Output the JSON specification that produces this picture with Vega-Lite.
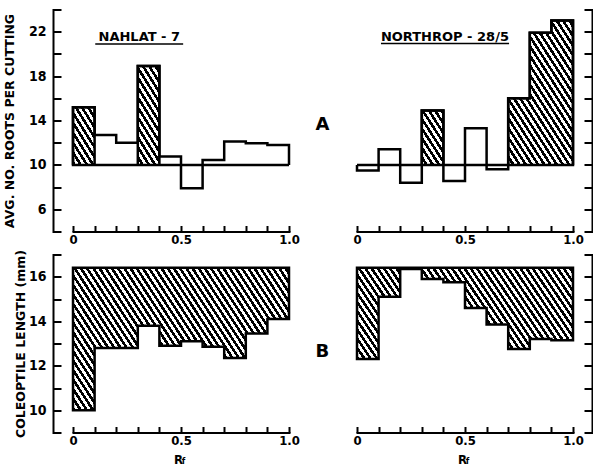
{
  "$schema": "https://vega.github.io/schema/vega-lite/v6.json",
  "padding": {"left": 3, "top": 2.5, "right": 0, "bottom": 0},
  "background": "white",
  "columns": 2,
  "spacing": {"row": 23, "column": 68},
  "bounds": "flush",
  "config": {
    "view": {"stroke": null},
    "axis": {"grid": false, "tickCount": 30, "domainColor": "black", "domainWidth": 2, "tickColor": "black", "tickWidth": 2, "labelColor": "black", "titleColor": "black", "labelFont": "Liberation Sans Narrow, DejaVu Sans Condensed, sans-serif", "labelFontWeight": "bold", "labelFlush": false, "labelOverlap": false, "labelBound": false, "titleFont": "DejaVu Sans", "titleFontWeight": "bold", "domainCap": "square"},
    "axisX": {"labelFontSize": 13, "tickSize": -6, "labelPadding": 8},
    "axisY": {"labelFontSize": 14, "tickSize": -8, "labelPadding": 15, "titleFontSize": 12.5}
  },
  "datasets": {
    "nahlat_roots": [{"rf":0,"roots":10},{"rf":0,"roots":15.2},{"rf":0.1,"roots":12.7},{"rf":0.2,"roots":12.0},{"rf":0.3,"roots":18.9},{"rf":0.4,"roots":10.75},{"rf":0.5,"roots":7.9},{"rf":0.6,"roots":10.45},{"rf":0.7,"roots":12.1},{"rf":0.8,"roots":11.95},{"rf":0.9,"roots":11.8},{"rf":1.0,"roots":10}],
    "nahlat_sig": [{"rf":0,"roots":15.2},{"rf":0.1,"roots":10},{"rf":0.3,"roots":18.9},{"rf":0.4,"roots":10},{"rf":1.0,"roots":10}],
    "northrop_roots": [{"rf":0,"roots":10},{"rf":0,"roots":9.5},{"rf":0.1,"roots":11.4},{"rf":0.2,"roots":8.4},{"rf":0.3,"roots":14.9},{"rf":0.4,"roots":8.55},{"rf":0.5,"roots":13.3},{"rf":0.6,"roots":9.6},{"rf":0.7,"roots":16.0},{"rf":0.8,"roots":21.9},{"rf":0.9,"roots":23.0},{"rf":1.0,"roots":10}],
    "northrop_sig": [{"rf":0,"roots":10},{"rf":0.3,"roots":14.9},{"rf":0.4,"roots":10},{"rf":0.7,"roots":16.0},{"rf":0.8,"roots":21.9},{"rf":0.9,"roots":23.0},{"rf":1.0,"roots":23.0}],
    "nahlat_coleo": [{"rf":0,"len":10.0},{"rf":0.1,"len":12.8},{"rf":0.2,"len":12.8},{"rf":0.3,"len":13.8},{"rf":0.4,"len":12.9},{"rf":0.5,"len":13.1},{"rf":0.6,"len":12.85},{"rf":0.7,"len":12.35},{"rf":0.8,"len":13.45},{"rf":0.9,"len":14.1},{"rf":1.0,"len":14.1}],
    "northrop_coleo": [{"rf":0,"len":12.3},{"rf":0.1,"len":15.1},{"rf":0.2,"len":16.35},{"rf":0.3,"len":15.9},{"rf":0.4,"len":15.75},{"rf":0.5,"len":14.6},{"rf":0.6,"len":13.85},{"rf":0.7,"len":12.75},{"rf":0.8,"len":13.2},{"rf":0.9,"len":13.15},{"rf":1.0,"len":13.15}]
  },
  "concat": [
    {
      "width": 216, "height": 222,
      "layer": [
        {"data": {"values": [{}]}, "mark": {"type": "rule", "strokeWidth": 2, "color": "black"},
         "encoding": {"x": {"datum": 0, "type": "quantitative"}, "x2": {"datum": 1}, "y": {"datum": 10, "type": "quantitative"}}},
        {"data": {"name": "nahlat_sig"}, "mark": {"type": "area", "interpolate": "step-after", "stroke": "black", "strokeWidth": 2.5, "strokeJoin": "miter",
          "fill": {"gradient": "linear", "x1": 0, "y1": 1, "x2": 1.3268, "y2": 0.6207, "stops": [
{"offset":0,"color":"#000"},{"offset":0.01,"color":"#000"},{"offset":0.01,"color":"#fff"},{"offset":0.02,"color":"#fff"},
{"offset":0.02,"color":"#000"},{"offset":0.03,"color":"#000"},{"offset":0.03,"color":"#fff"},{"offset":0.04,"color":"#fff"},
{"offset":0.04,"color":"#000"},{"offset":0.05,"color":"#000"},{"offset":0.05,"color":"#fff"},{"offset":0.06,"color":"#fff"},
{"offset":0.06,"color":"#000"},{"offset":0.07,"color":"#000"},{"offset":0.07,"color":"#fff"},{"offset":0.08,"color":"#fff"},
{"offset":0.08,"color":"#000"},{"offset":0.09,"color":"#000"},{"offset":0.09,"color":"#fff"},{"offset":0.10,"color":"#fff"},
{"offset":0.10,"color":"#000"},{"offset":0.11,"color":"#000"},{"offset":0.11,"color":"#fff"},{"offset":0.12,"color":"#fff"},
{"offset":0.12,"color":"#000"},{"offset":0.13,"color":"#000"},{"offset":0.13,"color":"#fff"},{"offset":0.14,"color":"#fff"},
{"offset":0.14,"color":"#000"},{"offset":0.15,"color":"#000"},{"offset":0.15,"color":"#fff"},{"offset":0.16,"color":"#fff"},
{"offset":0.16,"color":"#000"},{"offset":0.17,"color":"#000"},{"offset":0.17,"color":"#fff"},{"offset":0.18,"color":"#fff"},
{"offset":0.18,"color":"#000"},{"offset":0.19,"color":"#000"},{"offset":0.19,"color":"#fff"},{"offset":0.20,"color":"#fff"},
{"offset":0.20,"color":"#000"},{"offset":0.21,"color":"#000"},{"offset":0.21,"color":"#fff"},{"offset":0.22,"color":"#fff"},
{"offset":0.22,"color":"#000"},{"offset":0.23,"color":"#000"},{"offset":0.23,"color":"#fff"},{"offset":0.24,"color":"#fff"},
{"offset":0.24,"color":"#000"},{"offset":0.25,"color":"#000"},{"offset":0.25,"color":"#fff"},{"offset":0.26,"color":"#fff"},
{"offset":0.26,"color":"#000"},{"offset":0.27,"color":"#000"},{"offset":0.27,"color":"#fff"},{"offset":0.28,"color":"#fff"},
{"offset":0.28,"color":"#000"},{"offset":0.29,"color":"#000"},{"offset":0.29,"color":"#fff"},{"offset":0.30,"color":"#fff"},
{"offset":0.30,"color":"#000"},{"offset":0.31,"color":"#000"},{"offset":0.31,"color":"#fff"},{"offset":0.32,"color":"#fff"},
{"offset":0.32,"color":"#000"},{"offset":0.33,"color":"#000"},{"offset":0.33,"color":"#fff"},{"offset":0.34,"color":"#fff"},
{"offset":0.34,"color":"#000"},{"offset":0.35,"color":"#000"},{"offset":0.35,"color":"#fff"},{"offset":0.36,"color":"#fff"},
{"offset":0.36,"color":"#000"},{"offset":0.37,"color":"#000"},{"offset":0.37,"color":"#fff"},{"offset":0.38,"color":"#fff"},
{"offset":0.38,"color":"#000"},{"offset":0.39,"color":"#000"},{"offset":0.39,"color":"#fff"},{"offset":0.40,"color":"#fff"},
{"offset":0.40,"color":"#000"},{"offset":0.41,"color":"#000"},{"offset":0.41,"color":"#fff"},{"offset":0.42,"color":"#fff"},
{"offset":0.42,"color":"#000"},{"offset":0.43,"color":"#000"},{"offset":0.43,"color":"#fff"},{"offset":0.44,"color":"#fff"},
{"offset":0.44,"color":"#000"},{"offset":0.45,"color":"#000"},{"offset":0.45,"color":"#fff"},{"offset":0.46,"color":"#fff"},
{"offset":0.46,"color":"#000"},{"offset":0.47,"color":"#000"},{"offset":0.47,"color":"#fff"},{"offset":0.48,"color":"#fff"},
{"offset":0.48,"color":"#000"},{"offset":0.49,"color":"#000"},{"offset":0.49,"color":"#fff"},{"offset":0.50,"color":"#fff"},
{"offset":0.50,"color":"#000"},{"offset":0.51,"color":"#000"},{"offset":0.51,"color":"#fff"},{"offset":0.52,"color":"#fff"},
{"offset":0.52,"color":"#000"},{"offset":0.53,"color":"#000"},{"offset":0.53,"color":"#fff"},{"offset":0.54,"color":"#fff"},
{"offset":0.54,"color":"#000"},{"offset":0.55,"color":"#000"},{"offset":0.55,"color":"#fff"},{"offset":0.56,"color":"#fff"},
{"offset":0.56,"color":"#000"},{"offset":0.57,"color":"#000"},{"offset":0.57,"color":"#fff"},{"offset":0.58,"color":"#fff"},
{"offset":0.58,"color":"#000"},{"offset":0.59,"color":"#000"},{"offset":0.59,"color":"#fff"},{"offset":0.60,"color":"#fff"},
{"offset":0.60,"color":"#000"},{"offset":0.61,"color":"#000"},{"offset":0.61,"color":"#fff"},{"offset":0.62,"color":"#fff"},
{"offset":0.62,"color":"#000"},{"offset":0.63,"color":"#000"},{"offset":0.63,"color":"#fff"},{"offset":0.64,"color":"#fff"},
{"offset":0.64,"color":"#000"},{"offset":0.65,"color":"#000"},{"offset":0.65,"color":"#fff"},{"offset":0.66,"color":"#fff"},
{"offset":0.66,"color":"#000"},{"offset":0.67,"color":"#000"},{"offset":0.67,"color":"#fff"},{"offset":0.68,"color":"#fff"},
{"offset":0.68,"color":"#000"},{"offset":0.69,"color":"#000"},{"offset":0.69,"color":"#fff"},{"offset":0.70,"color":"#fff"},
{"offset":0.70,"color":"#000"},{"offset":0.71,"color":"#000"},{"offset":0.71,"color":"#fff"},{"offset":0.72,"color":"#fff"},
{"offset":0.72,"color":"#000"},{"offset":0.73,"color":"#000"},{"offset":0.73,"color":"#fff"},{"offset":0.74,"color":"#fff"},
{"offset":0.74,"color":"#000"},{"offset":0.75,"color":"#000"},{"offset":0.75,"color":"#fff"},{"offset":0.76,"color":"#fff"},
{"offset":0.76,"color":"#000"},{"offset":0.77,"color":"#000"},{"offset":0.77,"color":"#fff"},{"offset":0.78,"color":"#fff"},
{"offset":0.78,"color":"#000"},{"offset":0.79,"color":"#000"},{"offset":0.79,"color":"#fff"},{"offset":0.80,"color":"#fff"},
{"offset":0.80,"color":"#000"},{"offset":0.81,"color":"#000"},{"offset":0.81,"color":"#fff"},{"offset":0.82,"color":"#fff"},
{"offset":0.82,"color":"#000"},{"offset":0.83,"color":"#000"},{"offset":0.83,"color":"#fff"},{"offset":0.84,"color":"#fff"},
{"offset":0.84,"color":"#000"},{"offset":0.85,"color":"#000"},{"offset":0.85,"color":"#fff"},{"offset":0.86,"color":"#fff"},
{"offset":0.86,"color":"#000"},{"offset":0.87,"color":"#000"},{"offset":0.87,"color":"#fff"},{"offset":0.88,"color":"#fff"},
{"offset":0.88,"color":"#000"},{"offset":0.89,"color":"#000"},{"offset":0.89,"color":"#fff"},{"offset":0.90,"color":"#fff"},
{"offset":0.90,"color":"#000"},{"offset":0.91,"color":"#000"},{"offset":0.91,"color":"#fff"},{"offset":0.92,"color":"#fff"},
{"offset":0.92,"color":"#000"},{"offset":0.93,"color":"#000"},{"offset":0.93,"color":"#fff"},{"offset":0.94,"color":"#fff"},
{"offset":0.94,"color":"#000"},{"offset":0.95,"color":"#000"},{"offset":0.95,"color":"#fff"},{"offset":0.96,"color":"#fff"},
{"offset":0.96,"color":"#000"},{"offset":0.97,"color":"#000"},{"offset":0.97,"color":"#fff"},{"offset":0.98,"color":"#fff"},
{"offset":0.98,"color":"#000"},{"offset":0.99,"color":"#000"},{"offset":0.99,"color":"#fff"},{"offset":1,"color":"#fff"}
          ]}},
         "encoding": {
           "x": {"field": "rf", "type": "quantitative", "scale": {"domain": [0, 1], "nice": false, "zero": false},
                 "axis": {"values": [0,0.1,0.2,0.3,0.4,0.5,0.6,0.7,0.8,0.9,1], "tickCount": 30, "labelExpr": "datum.value == 0 ? '0' : datum.value == 0.5 ? '0.5' : datum.value == 1 ? '1.0' : ' '", "labelOverlap": false, "title": null}},
           "y": {"field": "roots", "type": "quantitative", "scale": {"domain": [4, 24], "nice": false, "zero": false},
                 "axis": {"offset": 20, "values": [4,6,8,10,12,14,16,18,20,22,24], "tickCount": 30, "format": "d", "labelExpr": "datum.value % 4 == 2 && datum.value > 4 ? datum.label : ' '", "labelOverlap": false, "title": "AVG. NO. ROOTS PER CUTTING", "titlePadding": 11.5}},
           "y2": {"datum": 10}}},
        {"data": {"name": "nahlat_roots"}, "mark": {"type": "line", "interpolate": "step-after", "color": "black", "strokeWidth": 2.5, "strokeJoin": "miter"},
         "encoding": {"x": {"field": "rf", "type": "quantitative"}, "y": {"field": "roots", "type": "quantitative"}, "order": {"value": null}}},
        {"data": {"values": [{}]}, "mark": {"type": "text", "text": "NAHLAT - 7", "font": "DejaVu Sans", "fontWeight": "bold", "fontSize": 13, "baseline": "middle"},
         "encoding": {"x": {"datum": 0.307, "type": "quantitative"}, "y": {"datum": 21.55, "type": "quantitative"}}},
        {"data": {"values": [{}]}, "mark": {"type": "rule", "strokeWidth": 1.5, "color": "black"},
         "encoding": {"x": {"datum": 0.103, "type": "quantitative"}, "x2": {"datum": 0.51}, "y": {"datum": 20.9, "type": "quantitative"}}}
      ]
    },
    {
      "width": 216, "height": 222,
      "layer": [
        {"data": {"values": [{}]}, "mark": {"type": "rule", "strokeWidth": 2, "color": "black"},
         "encoding": {"x": {"datum": 0, "type": "quantitative"}, "x2": {"datum": 1}, "y": {"datum": 10, "type": "quantitative"}}},
        {"data": {"name": "northrop_sig"}, "mark": {"type": "area", "interpolate": "step-after", "stroke": "black", "strokeWidth": 2.5, "strokeJoin": "miter",
          "fill": {"gradient": "linear", "x1": 0, "y1": 1, "x2": 1.2102, "y2": 0.4783, "stops": [
{"offset":0,"color":"#000"},{"offset":0.01,"color":"#000"},{"offset":0.01,"color":"#fff"},{"offset":0.02,"color":"#fff"},
{"offset":0.02,"color":"#000"},{"offset":0.03,"color":"#000"},{"offset":0.03,"color":"#fff"},{"offset":0.04,"color":"#fff"},
{"offset":0.04,"color":"#000"},{"offset":0.05,"color":"#000"},{"offset":0.05,"color":"#fff"},{"offset":0.06,"color":"#fff"},
{"offset":0.06,"color":"#000"},{"offset":0.07,"color":"#000"},{"offset":0.07,"color":"#fff"},{"offset":0.08,"color":"#fff"},
{"offset":0.08,"color":"#000"},{"offset":0.09,"color":"#000"},{"offset":0.09,"color":"#fff"},{"offset":0.10,"color":"#fff"},
{"offset":0.10,"color":"#000"},{"offset":0.11,"color":"#000"},{"offset":0.11,"color":"#fff"},{"offset":0.12,"color":"#fff"},
{"offset":0.12,"color":"#000"},{"offset":0.13,"color":"#000"},{"offset":0.13,"color":"#fff"},{"offset":0.14,"color":"#fff"},
{"offset":0.14,"color":"#000"},{"offset":0.15,"color":"#000"},{"offset":0.15,"color":"#fff"},{"offset":0.16,"color":"#fff"},
{"offset":0.16,"color":"#000"},{"offset":0.17,"color":"#000"},{"offset":0.17,"color":"#fff"},{"offset":0.18,"color":"#fff"},
{"offset":0.18,"color":"#000"},{"offset":0.19,"color":"#000"},{"offset":0.19,"color":"#fff"},{"offset":0.20,"color":"#fff"},
{"offset":0.20,"color":"#000"},{"offset":0.21,"color":"#000"},{"offset":0.21,"color":"#fff"},{"offset":0.22,"color":"#fff"},
{"offset":0.22,"color":"#000"},{"offset":0.23,"color":"#000"},{"offset":0.23,"color":"#fff"},{"offset":0.24,"color":"#fff"},
{"offset":0.24,"color":"#000"},{"offset":0.25,"color":"#000"},{"offset":0.25,"color":"#fff"},{"offset":0.26,"color":"#fff"},
{"offset":0.26,"color":"#000"},{"offset":0.27,"color":"#000"},{"offset":0.27,"color":"#fff"},{"offset":0.28,"color":"#fff"},
{"offset":0.28,"color":"#000"},{"offset":0.29,"color":"#000"},{"offset":0.29,"color":"#fff"},{"offset":0.30,"color":"#fff"},
{"offset":0.30,"color":"#000"},{"offset":0.31,"color":"#000"},{"offset":0.31,"color":"#fff"},{"offset":0.32,"color":"#fff"},
{"offset":0.32,"color":"#000"},{"offset":0.33,"color":"#000"},{"offset":0.33,"color":"#fff"},{"offset":0.34,"color":"#fff"},
{"offset":0.34,"color":"#000"},{"offset":0.35,"color":"#000"},{"offset":0.35,"color":"#fff"},{"offset":0.36,"color":"#fff"},
{"offset":0.36,"color":"#000"},{"offset":0.37,"color":"#000"},{"offset":0.37,"color":"#fff"},{"offset":0.38,"color":"#fff"},
{"offset":0.38,"color":"#000"},{"offset":0.39,"color":"#000"},{"offset":0.39,"color":"#fff"},{"offset":0.40,"color":"#fff"},
{"offset":0.40,"color":"#000"},{"offset":0.41,"color":"#000"},{"offset":0.41,"color":"#fff"},{"offset":0.42,"color":"#fff"},
{"offset":0.42,"color":"#000"},{"offset":0.43,"color":"#000"},{"offset":0.43,"color":"#fff"},{"offset":0.44,"color":"#fff"},
{"offset":0.44,"color":"#000"},{"offset":0.45,"color":"#000"},{"offset":0.45,"color":"#fff"},{"offset":0.46,"color":"#fff"},
{"offset":0.46,"color":"#000"},{"offset":0.47,"color":"#000"},{"offset":0.47,"color":"#fff"},{"offset":0.48,"color":"#fff"},
{"offset":0.48,"color":"#000"},{"offset":0.49,"color":"#000"},{"offset":0.49,"color":"#fff"},{"offset":0.50,"color":"#fff"},
{"offset":0.50,"color":"#000"},{"offset":0.51,"color":"#000"},{"offset":0.51,"color":"#fff"},{"offset":0.52,"color":"#fff"},
{"offset":0.52,"color":"#000"},{"offset":0.53,"color":"#000"},{"offset":0.53,"color":"#fff"},{"offset":0.54,"color":"#fff"},
{"offset":0.54,"color":"#000"},{"offset":0.55,"color":"#000"},{"offset":0.55,"color":"#fff"},{"offset":0.56,"color":"#fff"},
{"offset":0.56,"color":"#000"},{"offset":0.57,"color":"#000"},{"offset":0.57,"color":"#fff"},{"offset":0.58,"color":"#fff"},
{"offset":0.58,"color":"#000"},{"offset":0.59,"color":"#000"},{"offset":0.59,"color":"#fff"},{"offset":0.60,"color":"#fff"},
{"offset":0.60,"color":"#000"},{"offset":0.61,"color":"#000"},{"offset":0.61,"color":"#fff"},{"offset":0.62,"color":"#fff"},
{"offset":0.62,"color":"#000"},{"offset":0.63,"color":"#000"},{"offset":0.63,"color":"#fff"},{"offset":0.64,"color":"#fff"},
{"offset":0.64,"color":"#000"},{"offset":0.65,"color":"#000"},{"offset":0.65,"color":"#fff"},{"offset":0.66,"color":"#fff"},
{"offset":0.66,"color":"#000"},{"offset":0.67,"color":"#000"},{"offset":0.67,"color":"#fff"},{"offset":0.68,"color":"#fff"},
{"offset":0.68,"color":"#000"},{"offset":0.69,"color":"#000"},{"offset":0.69,"color":"#fff"},{"offset":0.70,"color":"#fff"},
{"offset":0.70,"color":"#000"},{"offset":0.71,"color":"#000"},{"offset":0.71,"color":"#fff"},{"offset":0.72,"color":"#fff"},
{"offset":0.72,"color":"#000"},{"offset":0.73,"color":"#000"},{"offset":0.73,"color":"#fff"},{"offset":0.74,"color":"#fff"},
{"offset":0.74,"color":"#000"},{"offset":0.75,"color":"#000"},{"offset":0.75,"color":"#fff"},{"offset":0.76,"color":"#fff"},
{"offset":0.76,"color":"#000"},{"offset":0.77,"color":"#000"},{"offset":0.77,"color":"#fff"},{"offset":0.78,"color":"#fff"},
{"offset":0.78,"color":"#000"},{"offset":0.79,"color":"#000"},{"offset":0.79,"color":"#fff"},{"offset":0.80,"color":"#fff"},
{"offset":0.80,"color":"#000"},{"offset":0.81,"color":"#000"},{"offset":0.81,"color":"#fff"},{"offset":0.82,"color":"#fff"},
{"offset":0.82,"color":"#000"},{"offset":0.83,"color":"#000"},{"offset":0.83,"color":"#fff"},{"offset":0.84,"color":"#fff"},
{"offset":0.84,"color":"#000"},{"offset":0.85,"color":"#000"},{"offset":0.85,"color":"#fff"},{"offset":0.86,"color":"#fff"},
{"offset":0.86,"color":"#000"},{"offset":0.87,"color":"#000"},{"offset":0.87,"color":"#fff"},{"offset":0.88,"color":"#fff"},
{"offset":0.88,"color":"#000"},{"offset":0.89,"color":"#000"},{"offset":0.89,"color":"#fff"},{"offset":0.90,"color":"#fff"},
{"offset":0.90,"color":"#000"},{"offset":0.91,"color":"#000"},{"offset":0.91,"color":"#fff"},{"offset":0.92,"color":"#fff"},
{"offset":0.92,"color":"#000"},{"offset":0.93,"color":"#000"},{"offset":0.93,"color":"#fff"},{"offset":0.94,"color":"#fff"},
{"offset":0.94,"color":"#000"},{"offset":0.95,"color":"#000"},{"offset":0.95,"color":"#fff"},{"offset":0.96,"color":"#fff"},
{"offset":0.96,"color":"#000"},{"offset":0.97,"color":"#000"},{"offset":0.97,"color":"#fff"},{"offset":0.98,"color":"#fff"},
{"offset":0.98,"color":"#000"},{"offset":0.99,"color":"#000"},{"offset":0.99,"color":"#fff"},{"offset":1,"color":"#fff"}
          ]}},
         "encoding": {
           "x": {"field": "rf", "type": "quantitative", "scale": {"domain": [0, 1], "nice": false, "zero": false},
                 "axis": {"values": [0,0.1,0.2,0.3,0.4,0.5,0.6,0.7,0.8,0.9,1], "tickCount": 30, "labelExpr": "datum.value == 0 ? '0' : datum.value == 0.5 ? '0.5' : datum.value == 1 ? '1.0' : ' '", "labelOverlap": false, "title": null}},
           "y": {"field": "roots", "type": "quantitative", "scale": {"domain": [4, 24], "nice": false, "zero": false},
                 "axis": {"orient": "right", "offset": 19, "values": [4,6,8,10,12,14,16,18,20,22,24], "tickCount": 30, "labels": false, "title": null}},
           "y2": {"datum": 10}}},
        {"data": {"name": "northrop_roots"}, "mark": {"type": "line", "interpolate": "step-after", "color": "black", "strokeWidth": 2.5, "strokeJoin": "miter"},
         "encoding": {"x": {"field": "rf", "type": "quantitative"}, "y": {"field": "roots", "type": "quantitative"}, "order": {"value": null}}},
        {"data": {"values": [{}]}, "mark": {"type": "text", "text": "NORTHROP - 28/5", "font": "DejaVu Sans", "fontWeight": "bold", "fontSize": 13, "baseline": "middle"},
         "encoding": {"x": {"datum": 0.407, "type": "quantitative"}, "y": {"datum": 21.55, "type": "quantitative"}}},
        {"data": {"values": [{}]}, "mark": {"type": "rule", "strokeWidth": 1.5, "color": "black"},
         "encoding": {"x": {"datum": 0.111, "type": "quantitative"}, "x2": {"datum": 0.704}, "y": {"datum": 20.93, "type": "quantitative"}}},
        {"data": {"values": [{}]}, "mark": {"type": "text", "text": "A", "font": "DejaVu Sans", "fontWeight": "bold", "fontSize": 18, "baseline": "middle"},
         "encoding": {"x": {"datum": -0.16, "type": "quantitative"}, "y": {"datum": 13.6, "type": "quantitative"}}}
      ]
    },
    {
      "width": 216, "height": 178,
      "layer": [
        {"data": {"name": "nahlat_coleo"}, "mark": {"type": "area", "interpolate": "step-after", "stroke": "black", "strokeWidth": 2.5, "strokeJoin": "miter",
          "fill": {"gradient": "linear", "x1": 0, "y1": 1, "x2": 1.2102, "y2": 0.4783, "stops": [
{"offset":0,"color":"#000"},{"offset":0.01,"color":"#000"},{"offset":0.01,"color":"#fff"},{"offset":0.02,"color":"#fff"},
{"offset":0.02,"color":"#000"},{"offset":0.03,"color":"#000"},{"offset":0.03,"color":"#fff"},{"offset":0.04,"color":"#fff"},
{"offset":0.04,"color":"#000"},{"offset":0.05,"color":"#000"},{"offset":0.05,"color":"#fff"},{"offset":0.06,"color":"#fff"},
{"offset":0.06,"color":"#000"},{"offset":0.07,"color":"#000"},{"offset":0.07,"color":"#fff"},{"offset":0.08,"color":"#fff"},
{"offset":0.08,"color":"#000"},{"offset":0.09,"color":"#000"},{"offset":0.09,"color":"#fff"},{"offset":0.10,"color":"#fff"},
{"offset":0.10,"color":"#000"},{"offset":0.11,"color":"#000"},{"offset":0.11,"color":"#fff"},{"offset":0.12,"color":"#fff"},
{"offset":0.12,"color":"#000"},{"offset":0.13,"color":"#000"},{"offset":0.13,"color":"#fff"},{"offset":0.14,"color":"#fff"},
{"offset":0.14,"color":"#000"},{"offset":0.15,"color":"#000"},{"offset":0.15,"color":"#fff"},{"offset":0.16,"color":"#fff"},
{"offset":0.16,"color":"#000"},{"offset":0.17,"color":"#000"},{"offset":0.17,"color":"#fff"},{"offset":0.18,"color":"#fff"},
{"offset":0.18,"color":"#000"},{"offset":0.19,"color":"#000"},{"offset":0.19,"color":"#fff"},{"offset":0.20,"color":"#fff"},
{"offset":0.20,"color":"#000"},{"offset":0.21,"color":"#000"},{"offset":0.21,"color":"#fff"},{"offset":0.22,"color":"#fff"},
{"offset":0.22,"color":"#000"},{"offset":0.23,"color":"#000"},{"offset":0.23,"color":"#fff"},{"offset":0.24,"color":"#fff"},
{"offset":0.24,"color":"#000"},{"offset":0.25,"color":"#000"},{"offset":0.25,"color":"#fff"},{"offset":0.26,"color":"#fff"},
{"offset":0.26,"color":"#000"},{"offset":0.27,"color":"#000"},{"offset":0.27,"color":"#fff"},{"offset":0.28,"color":"#fff"},
{"offset":0.28,"color":"#000"},{"offset":0.29,"color":"#000"},{"offset":0.29,"color":"#fff"},{"offset":0.30,"color":"#fff"},
{"offset":0.30,"color":"#000"},{"offset":0.31,"color":"#000"},{"offset":0.31,"color":"#fff"},{"offset":0.32,"color":"#fff"},
{"offset":0.32,"color":"#000"},{"offset":0.33,"color":"#000"},{"offset":0.33,"color":"#fff"},{"offset":0.34,"color":"#fff"},
{"offset":0.34,"color":"#000"},{"offset":0.35,"color":"#000"},{"offset":0.35,"color":"#fff"},{"offset":0.36,"color":"#fff"},
{"offset":0.36,"color":"#000"},{"offset":0.37,"color":"#000"},{"offset":0.37,"color":"#fff"},{"offset":0.38,"color":"#fff"},
{"offset":0.38,"color":"#000"},{"offset":0.39,"color":"#000"},{"offset":0.39,"color":"#fff"},{"offset":0.40,"color":"#fff"},
{"offset":0.40,"color":"#000"},{"offset":0.41,"color":"#000"},{"offset":0.41,"color":"#fff"},{"offset":0.42,"color":"#fff"},
{"offset":0.42,"color":"#000"},{"offset":0.43,"color":"#000"},{"offset":0.43,"color":"#fff"},{"offset":0.44,"color":"#fff"},
{"offset":0.44,"color":"#000"},{"offset":0.45,"color":"#000"},{"offset":0.45,"color":"#fff"},{"offset":0.46,"color":"#fff"},
{"offset":0.46,"color":"#000"},{"offset":0.47,"color":"#000"},{"offset":0.47,"color":"#fff"},{"offset":0.48,"color":"#fff"},
{"offset":0.48,"color":"#000"},{"offset":0.49,"color":"#000"},{"offset":0.49,"color":"#fff"},{"offset":0.50,"color":"#fff"},
{"offset":0.50,"color":"#000"},{"offset":0.51,"color":"#000"},{"offset":0.51,"color":"#fff"},{"offset":0.52,"color":"#fff"},
{"offset":0.52,"color":"#000"},{"offset":0.53,"color":"#000"},{"offset":0.53,"color":"#fff"},{"offset":0.54,"color":"#fff"},
{"offset":0.54,"color":"#000"},{"offset":0.55,"color":"#000"},{"offset":0.55,"color":"#fff"},{"offset":0.56,"color":"#fff"},
{"offset":0.56,"color":"#000"},{"offset":0.57,"color":"#000"},{"offset":0.57,"color":"#fff"},{"offset":0.58,"color":"#fff"},
{"offset":0.58,"color":"#000"},{"offset":0.59,"color":"#000"},{"offset":0.59,"color":"#fff"},{"offset":0.60,"color":"#fff"},
{"offset":0.60,"color":"#000"},{"offset":0.61,"color":"#000"},{"offset":0.61,"color":"#fff"},{"offset":0.62,"color":"#fff"},
{"offset":0.62,"color":"#000"},{"offset":0.63,"color":"#000"},{"offset":0.63,"color":"#fff"},{"offset":0.64,"color":"#fff"},
{"offset":0.64,"color":"#000"},{"offset":0.65,"color":"#000"},{"offset":0.65,"color":"#fff"},{"offset":0.66,"color":"#fff"},
{"offset":0.66,"color":"#000"},{"offset":0.67,"color":"#000"},{"offset":0.67,"color":"#fff"},{"offset":0.68,"color":"#fff"},
{"offset":0.68,"color":"#000"},{"offset":0.69,"color":"#000"},{"offset":0.69,"color":"#fff"},{"offset":0.70,"color":"#fff"},
{"offset":0.70,"color":"#000"},{"offset":0.71,"color":"#000"},{"offset":0.71,"color":"#fff"},{"offset":0.72,"color":"#fff"},
{"offset":0.72,"color":"#000"},{"offset":0.73,"color":"#000"},{"offset":0.73,"color":"#fff"},{"offset":0.74,"color":"#fff"},
{"offset":0.74,"color":"#000"},{"offset":0.75,"color":"#000"},{"offset":0.75,"color":"#fff"},{"offset":0.76,"color":"#fff"},
{"offset":0.76,"color":"#000"},{"offset":0.77,"color":"#000"},{"offset":0.77,"color":"#fff"},{"offset":0.78,"color":"#fff"},
{"offset":0.78,"color":"#000"},{"offset":0.79,"color":"#000"},{"offset":0.79,"color":"#fff"},{"offset":0.80,"color":"#fff"},
{"offset":0.80,"color":"#000"},{"offset":0.81,"color":"#000"},{"offset":0.81,"color":"#fff"},{"offset":0.82,"color":"#fff"},
{"offset":0.82,"color":"#000"},{"offset":0.83,"color":"#000"},{"offset":0.83,"color":"#fff"},{"offset":0.84,"color":"#fff"},
{"offset":0.84,"color":"#000"},{"offset":0.85,"color":"#000"},{"offset":0.85,"color":"#fff"},{"offset":0.86,"color":"#fff"},
{"offset":0.86,"color":"#000"},{"offset":0.87,"color":"#000"},{"offset":0.87,"color":"#fff"},{"offset":0.88,"color":"#fff"},
{"offset":0.88,"color":"#000"},{"offset":0.89,"color":"#000"},{"offset":0.89,"color":"#fff"},{"offset":0.90,"color":"#fff"},
{"offset":0.90,"color":"#000"},{"offset":0.91,"color":"#000"},{"offset":0.91,"color":"#fff"},{"offset":0.92,"color":"#fff"},
{"offset":0.92,"color":"#000"},{"offset":0.93,"color":"#000"},{"offset":0.93,"color":"#fff"},{"offset":0.94,"color":"#fff"},
{"offset":0.94,"color":"#000"},{"offset":0.95,"color":"#000"},{"offset":0.95,"color":"#fff"},{"offset":0.96,"color":"#fff"},
{"offset":0.96,"color":"#000"},{"offset":0.97,"color":"#000"},{"offset":0.97,"color":"#fff"},{"offset":0.98,"color":"#fff"},
{"offset":0.98,"color":"#000"},{"offset":0.99,"color":"#000"},{"offset":0.99,"color":"#fff"},{"offset":1,"color":"#fff"}
          ]}},
         "encoding": {
           "x": {"field": "rf", "type": "quantitative", "scale": {"domain": [0, 1], "nice": false, "zero": false},
                 "axis": {"values": [0,0.1,0.2,0.3,0.4,0.5,0.6,0.7,0.8,0.9,1], "tickCount": 30, "labelExpr": "datum.value == 0 ? '0' : datum.value == 0.5 ? '0.5' : datum.value == 1 ? '1.0' : ' '", "labelOverlap": false, "title": "R", "titleX": 105, "titleFont": "Liberation Sans Narrow, DejaVu Sans Condensed, sans-serif", "titleFontSize": 13, "titlePadding": 6}},
           "y": {"field": "len", "type": "quantitative", "scale": {"domain": [9, 17], "nice": false, "zero": false},
                 "axis": {"offset": 20, "values": [9,10,11,12,13,14,15,16,17], "tickCount": 30, "format": "d", "labelExpr": "datum.value % 2 == 0 ? datum.label : ' '", "labelOverlap": false, "title": "COLEOPTILE LENGTH (mm)", "titlePadding": 1}},
           "y2": {"datum": 16.4}}},
        {"data": {"values": [{}]}, "mark": {"type": "text", "text": "f", "font": "Liberation Sans Narrow, DejaVu Sans Condensed, sans-serif", "fontWeight": "bold", "fontSize": 9, "baseline": "middle"},
         "encoding": {"x": {"datum": 0.512, "type": "quantitative"}, "y": {"datum": 7.7, "type": "quantitative"}}}
      ]
    },
    {
      "width": 216, "height": 178,
      "layer": [
        {"data": {"name": "northrop_coleo"}, "mark": {"type": "area", "interpolate": "step-after", "stroke": "black", "strokeWidth": 2.5, "strokeJoin": "miter",
          "fill": {"gradient": "linear", "x1": 0, "y1": 1, "x2": 1.3268, "y2": 0.6207, "stops": [
{"offset":0,"color":"#000"},{"offset":0.01,"color":"#000"},{"offset":0.01,"color":"#fff"},{"offset":0.02,"color":"#fff"},
{"offset":0.02,"color":"#000"},{"offset":0.03,"color":"#000"},{"offset":0.03,"color":"#fff"},{"offset":0.04,"color":"#fff"},
{"offset":0.04,"color":"#000"},{"offset":0.05,"color":"#000"},{"offset":0.05,"color":"#fff"},{"offset":0.06,"color":"#fff"},
{"offset":0.06,"color":"#000"},{"offset":0.07,"color":"#000"},{"offset":0.07,"color":"#fff"},{"offset":0.08,"color":"#fff"},
{"offset":0.08,"color":"#000"},{"offset":0.09,"color":"#000"},{"offset":0.09,"color":"#fff"},{"offset":0.10,"color":"#fff"},
{"offset":0.10,"color":"#000"},{"offset":0.11,"color":"#000"},{"offset":0.11,"color":"#fff"},{"offset":0.12,"color":"#fff"},
{"offset":0.12,"color":"#000"},{"offset":0.13,"color":"#000"},{"offset":0.13,"color":"#fff"},{"offset":0.14,"color":"#fff"},
{"offset":0.14,"color":"#000"},{"offset":0.15,"color":"#000"},{"offset":0.15,"color":"#fff"},{"offset":0.16,"color":"#fff"},
{"offset":0.16,"color":"#000"},{"offset":0.17,"color":"#000"},{"offset":0.17,"color":"#fff"},{"offset":0.18,"color":"#fff"},
{"offset":0.18,"color":"#000"},{"offset":0.19,"color":"#000"},{"offset":0.19,"color":"#fff"},{"offset":0.20,"color":"#fff"},
{"offset":0.20,"color":"#000"},{"offset":0.21,"color":"#000"},{"offset":0.21,"color":"#fff"},{"offset":0.22,"color":"#fff"},
{"offset":0.22,"color":"#000"},{"offset":0.23,"color":"#000"},{"offset":0.23,"color":"#fff"},{"offset":0.24,"color":"#fff"},
{"offset":0.24,"color":"#000"},{"offset":0.25,"color":"#000"},{"offset":0.25,"color":"#fff"},{"offset":0.26,"color":"#fff"},
{"offset":0.26,"color":"#000"},{"offset":0.27,"color":"#000"},{"offset":0.27,"color":"#fff"},{"offset":0.28,"color":"#fff"},
{"offset":0.28,"color":"#000"},{"offset":0.29,"color":"#000"},{"offset":0.29,"color":"#fff"},{"offset":0.30,"color":"#fff"},
{"offset":0.30,"color":"#000"},{"offset":0.31,"color":"#000"},{"offset":0.31,"color":"#fff"},{"offset":0.32,"color":"#fff"},
{"offset":0.32,"color":"#000"},{"offset":0.33,"color":"#000"},{"offset":0.33,"color":"#fff"},{"offset":0.34,"color":"#fff"},
{"offset":0.34,"color":"#000"},{"offset":0.35,"color":"#000"},{"offset":0.35,"color":"#fff"},{"offset":0.36,"color":"#fff"},
{"offset":0.36,"color":"#000"},{"offset":0.37,"color":"#000"},{"offset":0.37,"color":"#fff"},{"offset":0.38,"color":"#fff"},
{"offset":0.38,"color":"#000"},{"offset":0.39,"color":"#000"},{"offset":0.39,"color":"#fff"},{"offset":0.40,"color":"#fff"},
{"offset":0.40,"color":"#000"},{"offset":0.41,"color":"#000"},{"offset":0.41,"color":"#fff"},{"offset":0.42,"color":"#fff"},
{"offset":0.42,"color":"#000"},{"offset":0.43,"color":"#000"},{"offset":0.43,"color":"#fff"},{"offset":0.44,"color":"#fff"},
{"offset":0.44,"color":"#000"},{"offset":0.45,"color":"#000"},{"offset":0.45,"color":"#fff"},{"offset":0.46,"color":"#fff"},
{"offset":0.46,"color":"#000"},{"offset":0.47,"color":"#000"},{"offset":0.47,"color":"#fff"},{"offset":0.48,"color":"#fff"},
{"offset":0.48,"color":"#000"},{"offset":0.49,"color":"#000"},{"offset":0.49,"color":"#fff"},{"offset":0.50,"color":"#fff"},
{"offset":0.50,"color":"#000"},{"offset":0.51,"color":"#000"},{"offset":0.51,"color":"#fff"},{"offset":0.52,"color":"#fff"},
{"offset":0.52,"color":"#000"},{"offset":0.53,"color":"#000"},{"offset":0.53,"color":"#fff"},{"offset":0.54,"color":"#fff"},
{"offset":0.54,"color":"#000"},{"offset":0.55,"color":"#000"},{"offset":0.55,"color":"#fff"},{"offset":0.56,"color":"#fff"},
{"offset":0.56,"color":"#000"},{"offset":0.57,"color":"#000"},{"offset":0.57,"color":"#fff"},{"offset":0.58,"color":"#fff"},
{"offset":0.58,"color":"#000"},{"offset":0.59,"color":"#000"},{"offset":0.59,"color":"#fff"},{"offset":0.60,"color":"#fff"},
{"offset":0.60,"color":"#000"},{"offset":0.61,"color":"#000"},{"offset":0.61,"color":"#fff"},{"offset":0.62,"color":"#fff"},
{"offset":0.62,"color":"#000"},{"offset":0.63,"color":"#000"},{"offset":0.63,"color":"#fff"},{"offset":0.64,"color":"#fff"},
{"offset":0.64,"color":"#000"},{"offset":0.65,"color":"#000"},{"offset":0.65,"color":"#fff"},{"offset":0.66,"color":"#fff"},
{"offset":0.66,"color":"#000"},{"offset":0.67,"color":"#000"},{"offset":0.67,"color":"#fff"},{"offset":0.68,"color":"#fff"},
{"offset":0.68,"color":"#000"},{"offset":0.69,"color":"#000"},{"offset":0.69,"color":"#fff"},{"offset":0.70,"color":"#fff"},
{"offset":0.70,"color":"#000"},{"offset":0.71,"color":"#000"},{"offset":0.71,"color":"#fff"},{"offset":0.72,"color":"#fff"},
{"offset":0.72,"color":"#000"},{"offset":0.73,"color":"#000"},{"offset":0.73,"color":"#fff"},{"offset":0.74,"color":"#fff"},
{"offset":0.74,"color":"#000"},{"offset":0.75,"color":"#000"},{"offset":0.75,"color":"#fff"},{"offset":0.76,"color":"#fff"},
{"offset":0.76,"color":"#000"},{"offset":0.77,"color":"#000"},{"offset":0.77,"color":"#fff"},{"offset":0.78,"color":"#fff"},
{"offset":0.78,"color":"#000"},{"offset":0.79,"color":"#000"},{"offset":0.79,"color":"#fff"},{"offset":0.80,"color":"#fff"},
{"offset":0.80,"color":"#000"},{"offset":0.81,"color":"#000"},{"offset":0.81,"color":"#fff"},{"offset":0.82,"color":"#fff"},
{"offset":0.82,"color":"#000"},{"offset":0.83,"color":"#000"},{"offset":0.83,"color":"#fff"},{"offset":0.84,"color":"#fff"},
{"offset":0.84,"color":"#000"},{"offset":0.85,"color":"#000"},{"offset":0.85,"color":"#fff"},{"offset":0.86,"color":"#fff"},
{"offset":0.86,"color":"#000"},{"offset":0.87,"color":"#000"},{"offset":0.87,"color":"#fff"},{"offset":0.88,"color":"#fff"},
{"offset":0.88,"color":"#000"},{"offset":0.89,"color":"#000"},{"offset":0.89,"color":"#fff"},{"offset":0.90,"color":"#fff"},
{"offset":0.90,"color":"#000"},{"offset":0.91,"color":"#000"},{"offset":0.91,"color":"#fff"},{"offset":0.92,"color":"#fff"},
{"offset":0.92,"color":"#000"},{"offset":0.93,"color":"#000"},{"offset":0.93,"color":"#fff"},{"offset":0.94,"color":"#fff"},
{"offset":0.94,"color":"#000"},{"offset":0.95,"color":"#000"},{"offset":0.95,"color":"#fff"},{"offset":0.96,"color":"#fff"},
{"offset":0.96,"color":"#000"},{"offset":0.97,"color":"#000"},{"offset":0.97,"color":"#fff"},{"offset":0.98,"color":"#fff"},
{"offset":0.98,"color":"#000"},{"offset":0.99,"color":"#000"},{"offset":0.99,"color":"#fff"},{"offset":1,"color":"#fff"}
          ]}},
         "encoding": {
           "x": {"field": "rf", "type": "quantitative", "scale": {"domain": [0, 1], "nice": false, "zero": false},
                 "axis": {"values": [0,0.1,0.2,0.3,0.4,0.5,0.6,0.7,0.8,0.9,1], "tickCount": 30, "labelExpr": "datum.value == 0 ? '0' : datum.value == 0.5 ? '0.5' : datum.value == 1 ? '1.0' : ' '", "labelOverlap": false, "title": "R", "titleX": 105, "titleFont": "Liberation Sans Narrow, DejaVu Sans Condensed, sans-serif", "titleFontSize": 13, "titlePadding": 6}},
           "y": {"field": "len", "type": "quantitative", "scale": {"domain": [9, 17], "nice": false, "zero": false},
                 "axis": {"orient": "right", "offset": 19, "values": [9,10,11,12,13,14,15,16,17], "tickCount": 30, "labels": false, "title": null}},
           "y2": {"datum": 16.4}}},
        {"data": {"values": [{}]}, "mark": {"type": "text", "text": "f", "font": "Liberation Sans Narrow, DejaVu Sans Condensed, sans-serif", "fontWeight": "bold", "fontSize": 9, "baseline": "middle"},
         "encoding": {"x": {"datum": 0.512, "type": "quantitative"}, "y": {"datum": 7.7, "type": "quantitative"}}},
        {"data": {"values": [{}]}, "mark": {"type": "text", "text": "B", "font": "DejaVu Sans", "fontWeight": "bold", "fontSize": 18, "baseline": "middle"},
         "encoding": {"x": {"datum": -0.16, "type": "quantitative"}, "y": {"datum": 12.62, "type": "quantitative"}}}
      ]
    }
  ]
}
